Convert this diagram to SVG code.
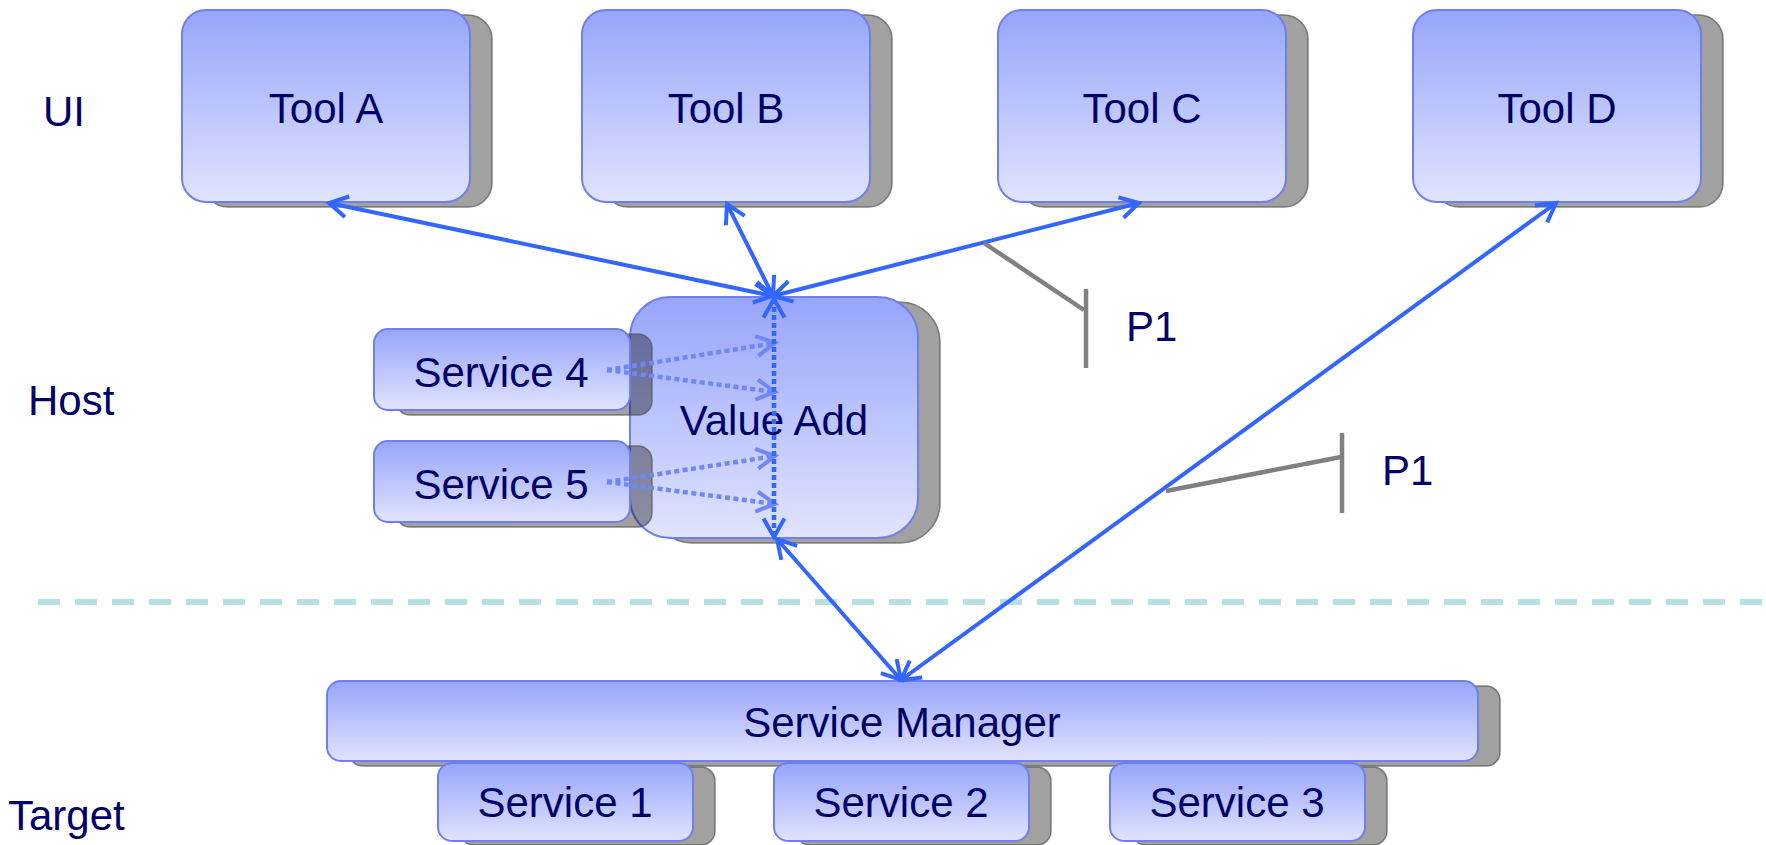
<svg xmlns="http://www.w3.org/2000/svg" width="1766" height="845" viewBox="0 0 1766 845">
  <style>
    .box { fill: url(#boxFill); stroke: #6f7ff0; stroke-width: 2; }
    .shadow { fill: #000; fill-opacity: 0.37; stroke: #555; stroke-opacity: 0.7; stroke-width: 1.5; }
    .lbl { font-family: "Liberation Sans", Arial, sans-serif; font-size: 42px; fill: #000066; }
    .mid { text-anchor: middle; }
    .link { fill: none; stroke: #3366ff; stroke-width: 4; marker-start: url(#arrow); marker-end: url(#arrow); }
    .inner { fill: none; stroke: #3366ff; stroke-width: 4.5; stroke-dasharray: 5 3; marker-start: url(#arrow); marker-end: url(#arrow); }
    .svc { fill: none; stroke: #7287f6; stroke-width: 4.5; stroke-dasharray: 5 3.5; marker-end: url(#arrowLight); }
    .callout { fill: none; stroke: #808080; stroke-width: 4.5; }
    .sep { fill: none; stroke: #b8dfe2; stroke-width: 6; stroke-dasharray: 22 15; }
  </style>
  <defs>
    <linearGradient id="boxFill" x1="0" y1="0" x2="0" y2="1">
      <stop offset="0" stop-color="#97a5fb"/>
      <stop offset="1" stop-color="#e0e4fd"/>
    </linearGradient>
    <marker id="arrow" markerUnits="userSpaceOnUse" viewBox="-24 -16 28 32" markerWidth="28" markerHeight="32" refX="0" refY="0" orient="auto-start-reverse">
      <path d="M-18.5,-10.5 L0,0 L-18.5,10.5" fill="none" stroke="#3366ff" stroke-width="4" stroke-dasharray="none"/>
    </marker>
    <marker id="arrowLight" markerUnits="userSpaceOnUse" viewBox="-24 -16 28 32" markerWidth="28" markerHeight="32" refX="0" refY="0" orient="auto">
      <path d="M-18.5,-10 L0,0 L-18.5,10" fill="none" stroke="#7287f6" stroke-width="4" stroke-dasharray="none"/>
    </marker>
  </defs>

  <rect width="1766" height="845" fill="#fff"/>

  <!-- tier labels -->
  <g id="tiers">
    <text class="lbl" x="43" y="126">UI</text>
    <text class="lbl" x="28" y="415">Host</text>
    <text class="lbl" x="8" y="830">Target</text>
  </g>

  <!-- host / target boundary -->
  <line class="sep" x1="38" y1="602" x2="1766" y2="602"/>

  <!-- UI tools -->
  <g id="tool-a">
    <rect class="shadow" x="204" y="15" width="288" height="192" rx="24"/>
    <rect class="box" x="182" y="10" width="288" height="192" rx="24"/>
    <text class="lbl mid" x="326" y="123">Tool A</text>
  </g>
  <g id="tool-b">
    <rect class="shadow" x="604" y="15" width="288" height="192" rx="24"/>
    <rect class="box" x="582" y="10" width="288" height="192" rx="24"/>
    <text class="lbl mid" x="726" y="123">Tool B</text>
  </g>
  <g id="tool-c">
    <rect class="shadow" x="1020" y="15" width="288" height="192" rx="24"/>
    <rect class="box" x="998" y="10" width="288" height="192" rx="24"/>
    <text class="lbl mid" x="1142" y="123">Tool C</text>
  </g>
  <g id="tool-d">
    <rect class="shadow" x="1435" y="15" width="288" height="192" rx="24"/>
    <rect class="box" x="1413" y="10" width="288" height="192" rx="24"/>
    <text class="lbl mid" x="1557" y="123">Tool D</text>
  </g>

  <!-- host -->
  <g id="value-add">
    <rect class="shadow" x="652" y="302" width="288" height="241" rx="40"/>
    <rect class="box" x="630" y="297" width="288" height="241" rx="40"/>
    <text class="lbl mid" x="774" y="435">Value Add</text>
  </g>
  <g id="service-4">
    <rect class="shadow" x="396" y="334" width="256" height="81" rx="14"/>
    <rect class="box" x="374" y="329" width="256" height="81" rx="14"/>
    <text class="lbl mid" x="501" y="387">Service 4</text>
  </g>
  <g id="service-5">
    <rect class="shadow" x="396" y="446" width="256" height="81" rx="14"/>
    <rect class="box" x="374" y="441" width="256" height="81" rx="14"/>
    <text class="lbl mid" x="501" y="499">Service 5</text>
  </g>

  <!-- target -->
  <g id="service-manager">
    <rect class="shadow" x="349" y="686" width="1151" height="80" rx="14"/>
    <rect class="box" x="327" y="681" width="1151" height="80" rx="14"/>
    <text class="lbl mid" x="902" y="737">Service Manager</text>
  </g>
  <g id="service-1">
    <rect class="shadow" x="460" y="767" width="255" height="78" rx="14"/>
    <rect class="box" x="438" y="763" width="255" height="78" rx="14"/>
    <text class="lbl mid" x="565" y="817">Service 1</text>
  </g>
  <g id="service-2">
    <rect class="shadow" x="796" y="767" width="255" height="78" rx="14"/>
    <rect class="box" x="774" y="763" width="255" height="78" rx="14"/>
    <text class="lbl mid" x="901" y="817">Service 2</text>
  </g>
  <g id="service-3">
    <rect class="shadow" x="1132" y="767" width="255" height="78" rx="14"/>
    <rect class="box" x="1110" y="763" width="255" height="78" rx="14"/>
    <text class="lbl mid" x="1237" y="817">Service 3</text>
  </g>

  <!-- connectors -->
  <g id="connectors">
    <line class="svc" x1="607" y1="370" x2="775" y2="343"/>
    <line class="svc" x1="607" y1="370" x2="775" y2="392"/>
    <line class="svc" x1="607" y1="482" x2="775" y2="456"/>
    <line class="svc" x1="607" y1="482" x2="775" y2="504"/>
    <line class="inner" x1="774" y1="299" x2="774" y2="537"/>
    <line class="link" x1="329" y1="203" x2="773" y2="296"/>
    <line class="link" x1="727" y1="204" x2="773" y2="296"/>
    <line class="link" x1="1139" y1="203" x2="773" y2="296"/>
    <line class="link" x1="1556" y1="203" x2="901" y2="680"/>
    <line class="link" x1="777" y1="539" x2="901" y2="680"/>
    <polyline class="callout" points="984,243 1084,310"/>
    <line class="callout" x1="1086" y1="289" x2="1086" y2="368"/>
    <polyline class="callout" points="1166,491 1341,457"/>
    <line class="callout" x1="1342" y1="433" x2="1342" y2="513"/>
    <text class="lbl" x="1126" y="341">P1</text>
    <text class="lbl" x="1382" y="485">P1</text>
  </g>
</svg>
